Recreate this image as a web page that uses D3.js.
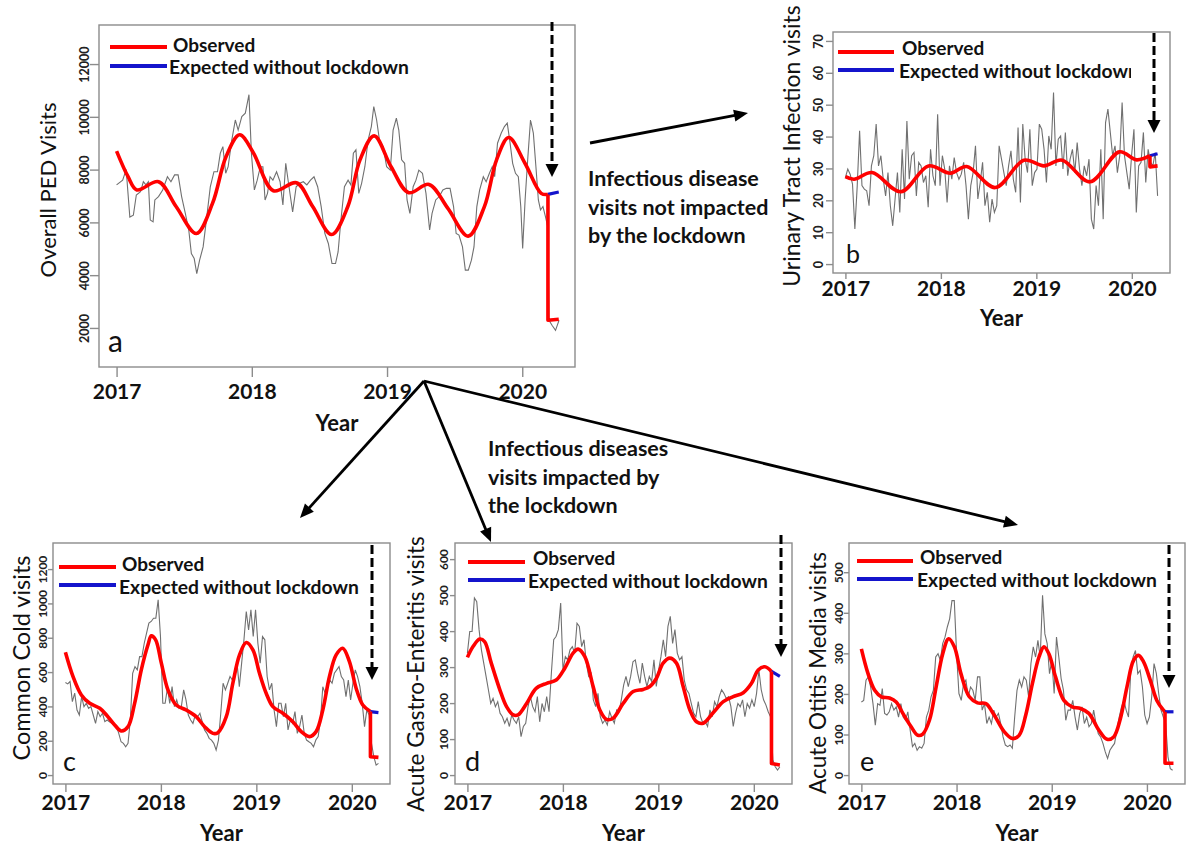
<!DOCTYPE html>
<html>
<head>
<meta charset="utf-8">
<script src="https://cdn.jsdelivr.net/npm/d3@7"></script>
<style>
  body { margin: 0; background: #fff; }
  svg { display: block; }
</style>
</head>
<body>
<svg id="fig" width="1187" height="848"></svg>
<script>
const FONT = "Lato, 'Open Sans', 'DejaVu Sans', sans-serif";
const years = [2017, 2018, 2019, 2020];

// ---- panel a: overall PED visits (t = years after 2017.0) ----
const aRaw = [[0,7420],[.045,7600],[.071,8000],[.098,6200],[.124,6270],[.146,7040],[.177,7160],[.198,7540],[.217,7420],[.235,7540],[.249,6090],[.270,6020],[.283,6850],[.310,6980],[.341,7230],[.376,7730],[.402,7540],[.429,7800],[.455,7800],[.481,6980],[.508,6350],[.534,5700],[.553,4820],[.574,4630],[.593,4060],[.614,4570],[.640,5070],[.667,6210],[.693,7350],[.720,7920],[.746,7920],[.767,8620],[.786,8870],[.807,7860],[.825,8110],[.852,9120],[.878,9880],[.899,9500],[.926,10010],[.952,10140],[.979,10840],[.997,8620],[1.019,7230],[1.040,7600],[1.063,8110],[1.082,8110],[1.098,6850],[1.116,7100],[1.135,7730],[1.156,7600],[1.183,7920],[1.209,7540],[1.230,6660],[1.251,8240],[1.275,7350],[1.302,6400],[1.328,7350],[1.354,7480],[1.381,7540],[1.407,7420],[1.434,7600],[1.460,7730],[1.487,7350],[1.513,6600],[1.540,5580],[1.566,5200],[1.593,4440],[1.619,4440],[1.638,4880],[1.659,6090],[1.685,7350],[1.712,7600],[1.733,7420],[1.751,8620],[1.770,8750],[1.791,7100],[1.812,7480],[1.836,8110],[1.860,9120],[1.884,9630],[1.902,10390],[1.923,9880],[1.944,9120],[1.971,8870],[1.997,8110],[2.024,7980],[2.045,9500],[2.069,9950],[2.087,9500],[2.108,8370],[2.130,8240],[2.148,6850],[2.169,6340],[2.193,7350],[2.214,7600],[2.235,7980],[2.262,7860],[2.288,7100],[2.315,5710],[2.333,6340],[2.360,6850],[2.386,6980],[2.413,7230],[2.439,7290],[2.466,7290],[2.492,6600],[2.511,5580],[2.532,5520],[2.558,5070],[2.579,4190],[2.601,4190],[2.624,4570],[2.643,5070],[2.664,6600],[2.685,7230],[2.712,7730],[2.733,7540],[2.757,7860],[2.778,8110],[2.796,7730],[2.817,9000],[2.844,9380],[2.868,9630],[2.889,9760],[2.907,9120],[2.929,8240],[2.950,7860],[2.971,7730],[2.989,6600],[3.003,5010],[3.021,6850],[3.040,8370],[3.061,9880],[3.082,9380],[3.101,8110],[3.119,6850],[3.135,6470],[3.153,6600],[3.172,6210],[3.188,5840],[3.198,2290],[3.220,2100],[3.246,1910],[3.272,2290]];
const aSmooth = [[0,8700],[.085,7730],[.15,7230],[.31,7540],[.44,6600],[.59,5580],[.71,6730],[.81,8500],[.91,9320],[1.01,8650],[1.16,7200],[1.33,7500],[1.45,6600],[1.59,5540],[1.71,6600],[1.80,8370],[1.905,9280],[2.03,8110],[2.16,7125],[2.31,7440],[2.45,6530],[2.60,5480],[2.72,6600],[2.81,8370],[2.90,9215],[3.02,8240],[3.14,7100],[3.19,7060]];
const aDrop = [[3.19,2290],[3.27,2330]];
const aExpected = [[3.19,7060],[3.27,7150]];
const aTicks = [2000, 4000, 6000, 8000, 10000, 12000];

// ---- panel b: urinary tract infection (evenly spaced weekly values) ----
const bRawEnd = 3.27;
const bRaw = [27.2,29.8,28.2,25.1,11,24.6,41.8,24.6,23.5,23,18.3,30.8,34,43.9,30.8,34,26.6,21.4,28.7,18.3,12,20.4,28.7,16.2,36,20.4,44.9,26.6,34,35,21.4,31.9,30.8,25.6,27.7,17.8,36,27.7,24.6,47,24.6,34,29.8,19.3,30.8,26.6,33.4,28.7,26.6,28.2,31.9,24.6,14.1,24.6,28.7,37.1,20.4,25.6,31.9,18.3,22.5,13.1,20.4,16.2,18.3,37.1,32.9,28.7,24.6,30.8,35.5,26.6,22.5,42.8,19.3,43.9,32.9,28.7,42.3,24.6,28.7,29.8,43.9,42.3,36,25.6,40.2,36,53.8,30.8,39.2,40.2,29.8,41.3,27.7,32.9,36,28.7,38.1,29.8,24.6,30.8,27.7,32.9,14.1,11,24.6,18.3,36,14.1,44.4,48.6,41.3,34,37.1,28.7,34,50.7,34,28.7,23.5,34,42.3,16.2,30.8,31.9,41.3,25.6,36,31.9,30.8,35,21.4];
const bSmooth = [[0,27.4],[.09,26.6],[.28,28.7],[.58,22.7],[.87,30.8],[1.10,28.5],[1.27,30.6],[1.57,24.0],[1.87,32.6],[2.08,30.8],[2.27,32.6],[2.56,25.8],[2.87,35.2],[3.05,32.7],[3.19,34.0]];
const bDrop = [[3.19,30.5],[3.27,30.8]];
const bExpected = [[3.19,34.0],[3.27,34.6]];
const bTicks = [0, 10, 20, 30, 40, 50, 60, 70];

// ---- panel c: common cold ----
const cRawEnd = 3.279;
const cRaw = [539,531,545,428,477,379,350,457,399,418,389,399,350,301,370,340,360,311,321,311,301,292,282,243,194,185,165,185,321,593,632,613,690,690,768,827,885,895,914,914,1021,807,418,418,506,418,515,399,438,389,399,496,438,350,321,301,350,340,360,311,263,243,214,204,185,146,204,360,535,496,535,574,554,574,652,515,652,788,953,846,963,807,963,768,652,807,788,574,496,535,379,282,418,418,340,418,263,321,301,370,243,282,350,243,204,194,185,165,204,224,321,515,477,515,554,535,593,613,632,574,554,457,554,438,535,613,574,515,418,282,379,350,185,107,58,68];
const cSmooth = [[0,716],[.08,574],[.167,467],[.255,418],[.36,389],[.43,350],[.516,292],[.586,257],[.656,282],[.725,418],[.795,613],[.865,759],[.90,811],[.945,788],[1.005,652],[1.074,496],[1.16,408],[1.266,379],[1.37,340],[1.458,282],[1.545,243],[1.597,247],[1.685,340],[1.754,535],[1.824,700],[1.894,772],[1.964,729],[2.033,593],[2.103,477],[2.173,399],[2.278,360],[2.382,311],[2.47,253],[2.557,224],[2.626,253],[2.696,379],[2.766,574],[2.836,700],[2.905,739],[2.975,661],[3.045,506],[3.115,408],[3.195,370]];
const cDrop = [[3.195,107],[3.279,103]];
const cExpected = [[3.195,370],[3.279,364]];
const cTicks = [0, 200, 400, 600, 800, 1000, 1200];

// ---- panel d: acute gastro-enteritis ----
const dRawEnd = 3.273;
const dRaw = [339,399,399,492,482,404,348,311,274,237,199,213,190,204,172,162,144,158,135,167,153,144,162,107,135,144,190,218,190,176,218,148,199,176,218,176,283,376,385,404,478,292,329,320,348,357,339,422,413,357,376,311,274,283,209,190,227,162,144,153,139,176,158,144,181,176,209,250,274,246,274,315,320,283,255,311,274,246,274,260,320,246,292,329,376,329,413,441,366,404,339,320,329,264,237,227,199,172,162,204,162,144,148,135,181,162,204,190,218,237,227,213,218,190,135,172,199,190,209,162,199,186,209,190,227,292,237,209,195,176,162,42,23,14,23];
const dSmooth = [[0,327],[.059,357],[.129,378],[.18,371],[.25,311],[.34,237],[.41,190],[.48,167],[.53,167],[.62,199],[.72,241],[.83,255],[.93,264],[1.02,297],[1.107,339],[1.16,350],[1.23,329],[1.317,246],[1.387,181],[1.457,155],[1.526,158],[1.631,199],[1.736,232],[1.84,238],[1.91,246],[1.98,269],[2.05,311],[2.12,325],[2.19,311],[2.26,246],[2.33,181],[2.40,148],[2.47,144],[2.574,173],[2.68,204],[2.784,218],[2.89,229],[2.976,255],[3.046,292],[3.116,301],[3.185,288]];
const dDrop = [[3.185,32],[3.273,28]];
const dExpected = [[3.185,288],[3.273,274]];
const dTicks = [0, 100, 200, 300, 400, 500, 600];

// ---- panel e: acute otitis media ----
const eRawEnd = 3.27;
const eRaw = [180,184,234,242,217,176,123,176,172,213,152,148,156,176,160,168,143,176,143,135,156,111,70,78,61,70,66,78,143,160,193,209,291,299,283,324,340,365,385,430,430,299,201,184,225,234,193,217,209,184,242,242,160,176,127,143,127,160,143,152,127,94,74,70,74,66,143,209,234,217,242,234,193,275,316,291,332,291,443,348,324,250,283,201,340,291,238,209,135,160,160,184,143,111,152,168,127,143,119,127,160,127,102,94,78,57,41,61,70,78,111,143,168,184,160,143,258,291,307,250,258,217,148,127,143,193,275,250,201,160,143,127,45,16,12];
const eSmooth = [[0,311],[.07,250],[.14,209],[.21,193],[.296,190],[.366,180],[.436,152],[.523,119],[.593,98],[.645,101],[.715,135],[.785,217],[.855,299],[.917,336],[.977,316],[1.046,250],[1.134,193],[1.22,178],[1.308,176],[1.395,148],[1.5,107],[1.587,90],[1.657,98],[1.727,148],[1.796,225],[1.866,291],[1.918,316],[1.97,299],[2.04,242],[2.128,184],[2.215,168],[2.302,164],[2.39,152],[2.494,111],[2.581,88],[2.651,94],[2.721,139],[2.79,217],[2.86,283],[2.912,295],[2.965,279],[3.035,234],[3.104,184],[3.174,160],[3.19,156]];
const eDrop = [[3.19,29],[3.279,29]];
const eExpected = [[3.19,156],[3.279,156]];
const eTicks = [0, 100, 200, 300, 400, 500];

// weekly values spread evenly from 2017 to the last week
function spread(vals, end) {
  return vals.map((v, i) => [i * end / (vals.length - 1), v]);
}

const svg = d3.select('#fig');
svg.append('rect').attr('width', 1187).attr('height', 848).attr('fill', '#fff');

const panels = [
  { raw: aRaw, smooth: aSmooth, drop: aDrop, expected: aExpected, yTicks: aTicks,
    left: 99, right: 575, top: 25, bottom: 367, xDom: [2016.87, 2020.39], yDom: [520, 13480],
    xTick: 10, xPad: 7, yTick: 9, yLabOff: -10.5, yFont: 12.5,
    title: 'Overall PED Visits', titleX: 47, titleY: 190, titleFont: 22, yearY: 422,
    letter: 'a', letterX: 108, letterY: 352, letterFont: 30,
    leg: { x1: 110, x2: 167, redY: 47, blueY: 66, obsX: 173, obsY: 44, expX: 169, expY: 66 },
    dash: { x: 552, y1: 22, y2: 177 } },
  { raw: spread(bRaw, bRawEnd), smooth: bSmooth, drop: bDrop, expected: bExpected, yTicks: bTicks,
    left: 833, right: 1170, top: 32, bottom: 273, xDom: [2016.87, 2020.40], yDom: [-2.8, 72.8],
    xTick: 6, xPad: 2, yTick: 7, yLabOff: -10.5, yFont: 12.5,
    title: 'Urinary Tract Infection visits', titleX: 791, titleY: 146, titleFont: 23, yearY: 317,
    letter: 'b', letterX: 846, letterY: 263, letterFont: 25,
    leg: { x1: 838, x2: 894, redY: 52, blueY: 70, obsX: 902, obsY: 47, expX: 899, expY: 70, clip: 1131 },
    dash: { x: 1154, y1: 33, y2: 133 } },
  { raw: spread(cRaw, cRawEnd), smooth: cSmooth, drop: cDrop, expected: cExpected, yTicks: cTicks,
    left: 53, right: 390, top: 543, bottom: 784, xDom: [2016.87, 2020.40], yDom: [-52, 1352],
    xTick: 8, xPad: 3, yTick: 5, yLabOff: -6, yFont: 12,
    title: 'Common Cold visits', titleX: 21, titleY: 658, titleFont: 23.5, yearY: 832,
    letter: 'c', letterX: 63, letterY: 771, letterFont: 27,
    leg: { x1: 59, x2: 116, redY: 567, blueY: 585, obsX: 122, obsY: 563, expX: 119, expY: 586 },
    dash: { x: 372, y1: 545, y2: 680 } },
  { raw: spread(dRaw, dRawEnd), smooth: dSmooth, drop: dDrop, expected: dExpected, yTicks: dTicks,
    left: 455, right: 792, top: 543, bottom: 784, xDom: [2016.87, 2020.40], yDom: [-24.8, 644.8],
    xTick: 8, xPad: 3, yTick: 5, yLabOff: -7, yFont: 12,
    title: 'Acute Gastro-Enteritis visits', titleX: 415, titleY: 674, titleFont: 22.5, yearY: 832,
    letter: 'd', letterX: 465, letterY: 771, letterFont: 27,
    leg: { x1: 468, x2: 525, redY: 562, blueY: 580, obsX: 533, obsY: 557, expX: 528, expY: 580 },
    dash: { x: 781, y1: 535, y2: 657 } },
  { raw: spread(eRaw, eRawEnd), smooth: eSmooth, drop: eDrop, expected: eExpected, yTicks: eTicks,
    left: 849, right: 1185, top: 543, bottom: 784, xDom: [2016.87, 2020.40], yDom: [-22, 572],
    xTick: 8, xPad: 3, yTick: 5, yLabOff: -6, yFont: 12,
    title: 'Acute Otitis Media visits', titleX: 817, titleY: 673, titleFont: 22.5, yearY: 832,
    letter: 'e', letterX: 860, letterY: 771, letterFont: 27,
    leg: { x1: 857, x2: 913, redY: 561, blueY: 579, obsX: 920, obsY: 556, expX: 917, expY: 579 },
    dash: { x: 1169, y1: 545, y2: 688 } }
];

function arrowHead(g, x, y, dx, dy, len, half) {
  // triangle with tip at (x,y) pointing along (dx,dy)
  const n = Math.hypot(dx, dy), ux = dx / n, uy = dy / n;
  const bx = x - ux * len, by = y - uy * len;
  g.append('path')
    .attr('d', `M${x},${y}L${bx - uy * half},${by + ux * half}L${bx + uy * half},${by - ux * half}Z`)
    .attr('fill', '#000');
}

panels.forEach((p, idx) => {
  const g = svg.append('g');
  const x = d3.scaleLinear().domain(p.xDom).range([p.left, p.right]);
  const y = d3.scaleLinear().domain(p.yDom).range([p.bottom, p.top]);
  const px = d => x(2017 + d[0]);
  const py = d => y(d[1]);

  // raw weekly counts
  g.append('path').datum(p.raw)
    .attr('d', d3.line().x(px).y(py))
    .attr('fill', 'none').attr('stroke', '#707070').attr('stroke-width', 1.1);

  // smoothed observed trend
  g.append('path').datum(p.smooth)
    .attr('d', d3.line().x(px).y(py).curve(d3.curveCatmullRom.alpha(0.5)))
    .attr('fill', 'none').attr('stroke', '#ff0000').attr('stroke-width', 3.6)
    .attr('stroke-linejoin', 'round');

  // expected without lockdown
  g.append('path').datum(p.expected)
    .attr('d', d3.line().x(px).y(py))
    .attr('fill', 'none').attr('stroke', '#1414cc').attr('stroke-width', 3.2);

  // observed after lockdown
  const last = p.smooth[p.smooth.length - 1];
  g.append('path').datum([last, ...p.drop])
    .attr('d', d3.line().x(px).y(py))
    .attr('fill', 'none').attr('stroke', '#ff0000').attr('stroke-width', 3.6)
    .attr('stroke-linejoin', 'round');

  // frame
  g.append('rect')
    .attr('x', p.left).attr('y', p.top)
    .attr('width', p.right - p.left).attr('height', p.bottom - p.top)
    .attr('fill', 'none').attr('stroke', '#8c8c8c').attr('stroke-width', 1.4);

  // x axis
  const xa = g.append('g').attr('transform', `translate(0,${p.bottom})`)
    .call(d3.axisBottom(x).tickValues(years).tickFormat(d3.format('d'))
      .tickSize(p.xTick).tickPadding(p.xPad));
  xa.select('.domain').remove();
  xa.selectAll('line').attr('stroke', '#8c8c8c').attr('stroke-width', 1.4);
  xa.selectAll('text').attr('font-family', FONT).attr('font-size', 21)
    .attr('font-weight', 'bold').attr('fill', '#111');

  // y axis, labels parallel to the axis
  const ya = g.append('g').attr('transform', `translate(${p.left},0)`)
    .call(d3.axisLeft(y).tickValues(p.yTicks).tickFormat(d3.format('d')).tickSize(p.yTick));
  ya.select('.domain').remove();
  ya.selectAll('line').attr('stroke', '#8c8c8c').attr('stroke-width', 1.4);
  ya.selectAll('text')
    .attr('x', null).attr('dy', null)
    .attr('text-anchor', 'middle')
    .attr('transform', `translate(${p.yLabOff},0) rotate(-90)`)
    .attr('font-family', FONT).attr('font-size', p.yFont)
    .attr('font-weight', 'bold').attr('fill', '#222');

  // axis titles
  g.append('text')
    .attr('transform', `translate(${p.titleX},${p.titleY}) rotate(-90)`)
    .attr('text-anchor', 'middle').attr('dominant-baseline', 'central')
    .attr('font-family', FONT).attr('font-size', p.titleFont).attr('fill', '#111')
    .text(p.title);
  g.append('text')
    .attr('x', (p.left + p.right) / 2).attr('y', p.yearY)
    .attr('text-anchor', 'middle').attr('dominant-baseline', 'central')
    .attr('font-family', FONT).attr('font-size', 22).attr('font-weight', 'bold').attr('fill', '#111')
    .text('Year');

  // panel letter
  g.append('text')
    .attr('x', p.letterX).attr('y', p.letterY)
    .attr('font-family', FONT).attr('font-size', p.letterFont).attr('fill', '#111')
    .text(p.letter);

  // legend
  const L = p.leg;
  g.append('line').attr('x1', L.x1).attr('x2', L.x2).attr('y1', L.redY).attr('y2', L.redY)
    .attr('stroke', '#ff0000').attr('stroke-width', 4);
  g.append('line').attr('x1', L.x1).attr('x2', L.x2).attr('y1', L.blueY).attr('y2', L.blueY)
    .attr('stroke', '#1414cc').attr('stroke-width', 4);
  g.append('text').attr('x', L.obsX).attr('y', L.obsY)
    .attr('dominant-baseline', 'central')
    .attr('font-family', FONT).attr('font-size', 19).attr('font-weight', 'bold').attr('fill', '#111')
    .text('Observed');
  const exp = g.append('text').attr('x', L.expX).attr('y', L.expY)
    .attr('dominant-baseline', 'central')
    .attr('font-family', FONT).attr('font-size', 19.3).attr('font-weight', 'bold').attr('fill', '#111')
    .text('Expected without lockdown');
  if (L.clip) {
    svg.append('clipPath').attr('id', 'legclip' + idx)
      .append('rect').attr('x', L.x1).attr('y', L.expY - 20).attr('width', L.clip - L.x1).attr('height', 40);
    exp.attr('clip-path', `url(#legclip${idx})`);
  }

  // dashed lockdown arrow
  const D = p.dash;
  g.append('line').attr('x1', D.x).attr('x2', D.x).attr('y1', D.y1).attr('y2', D.y2 - 10)
    .attr('stroke', '#000').attr('stroke-width', 3).attr('stroke-dasharray', '9,4');
  arrowHead(g, D.x, D.y2, 0, 1, 13, 6.5);
});

// connecting arrows between panels
const ann = svg.append('g');
function arrow(x1, y1, x2, y2) {
  const n = Math.hypot(x2 - x1, y2 - y1);
  const ex = x2 - (x2 - x1) / n * 12, ey = y2 - (y2 - y1) / n * 12;
  ann.append('line').attr('x1', x1).attr('y1', y1).attr('x2', ex).attr('y2', ey)
    .attr('stroke', '#000').attr('stroke-width', 2.8);
  arrowHead(ann, x2, y2, x2 - x1, y2 - y1, 14, 6);
}
arrow(590, 143, 748, 113);
arrow(424, 381, 300, 518);
arrow(424, 381, 491, 542);
arrow(424, 381, 1018, 525);

function note(lines, x, y0, step) {
  lines.forEach((s, i) => {
    ann.append('text').attr('x', x).attr('y', y0 + i * step)
      .attr('dominant-baseline', 'central')
      .attr('font-family', FONT).attr('font-size', 21.5).attr('font-weight', 'bold').attr('fill', '#111')
      .text(s);
  });
}
note(['Infectious disease', 'visits not impacted', 'by the lockdown'], 588, 178, 28.5);
note(['Infectious diseases', 'visits impacted by', 'the lockdown'], 488, 448, 28.5);
</script>
</body>
</html>
